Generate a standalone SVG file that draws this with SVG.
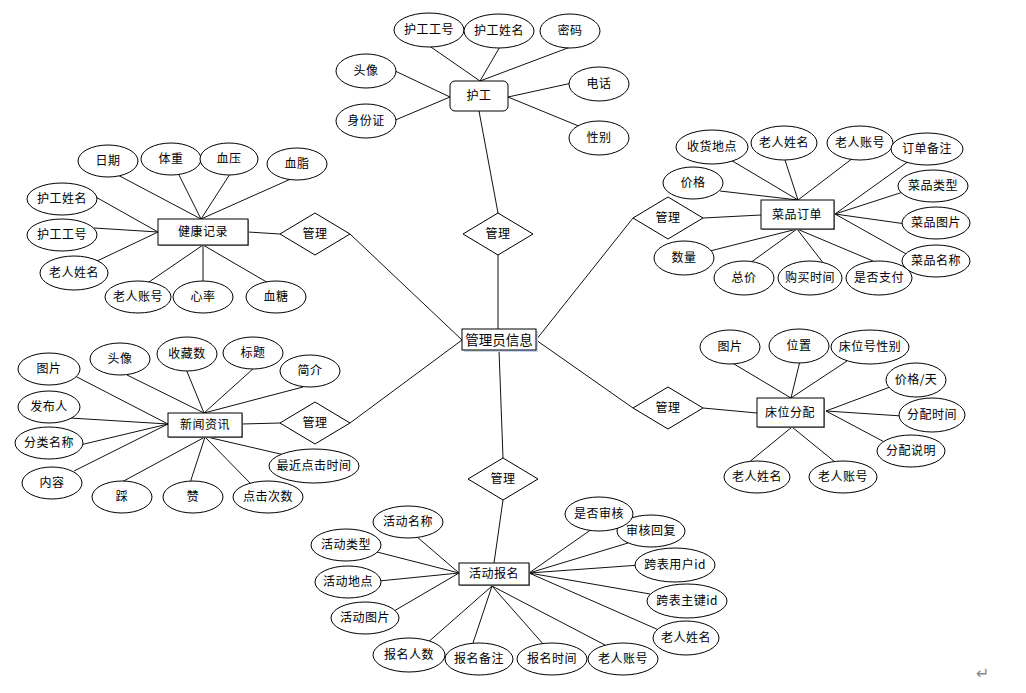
<svg xmlns="http://www.w3.org/2000/svg" width="1026" height="693" viewBox="0 0 1026 693">
<defs>
<style>
.e{fill:#fff;stroke:#000;stroke-width:1}
.r{fill:#fff;stroke:#000;stroke-width:1}
.s{fill:#999;stroke:none}
.d{fill:#fff;stroke:#000;stroke-width:1}
.c line{stroke:#111;stroke-width:1}
text{font-family:"Noto Sans CJK SC","Noto Sans",sans-serif;font-size:12px;fill:#000;text-anchor:middle;letter-spacing:0.5px}
.big{font-size:13.5px;letter-spacing:0}
</style>
</defs>
<rect width="1026" height="693" fill="#fff"/>
<g id="connectors" class="c">
<!-- 护工 -->
<line x1="480" y1="81" x2="428" y2="45"/>
<line x1="480" y1="81" x2="501" y2="45"/>
<line x1="480" y1="81" x2="573" y2="46"/>
<line x1="450" y1="97" x2="393" y2="70"/>
<line x1="450" y1="97" x2="393" y2="121"/>
<line x1="508" y1="97" x2="572" y2="83"/>
<line x1="508" y1="97" x2="581" y2="127"/>
<line x1="479" y1="111" x2="498" y2="213"/>
<!-- 管理员信息 -->
<line x1="498" y1="255" x2="498" y2="329"/>
<line x1="350" y1="234" x2="462" y2="340"/>
<line x1="350" y1="423" x2="462" y2="340"/>
<line x1="499" y1="350" x2="503" y2="458"/>
<line x1="536" y1="340" x2="633" y2="218"/>
<line x1="536" y1="340" x2="633" y2="408"/>
<!-- 健康记录 -->
<line x1="248" y1="232" x2="280" y2="234"/>
<line x1="201" y1="219" x2="114" y2="173"/>
<line x1="201" y1="219" x2="178" y2="173"/>
<line x1="201" y1="219" x2="230" y2="174"/>
<line x1="201" y1="219" x2="293" y2="178"/>
<line x1="158" y1="232" x2="94" y2="196"/>
<line x1="158" y1="232" x2="94" y2="228"/>
<line x1="158" y1="232" x2="95" y2="262"/>
<line x1="203" y1="245" x2="146" y2="284"/>
<line x1="203" y1="245" x2="203" y2="284"/>
<line x1="203" y1="245" x2="270" y2="284"/>
<!-- 新闻资讯 -->
<line x1="242" y1="424" x2="280" y2="423"/>
<line x1="204" y1="413" x2="127" y2="375"/>
<line x1="204" y1="413" x2="186" y2="369"/>
<line x1="204" y1="413" x2="254" y2="368"/>
<line x1="204" y1="413" x2="303" y2="387"/>
<line x1="168" y1="424" x2="75" y2="376"/>
<line x1="168" y1="424" x2="70" y2="418"/>
<line x1="168" y1="424" x2="80" y2="445"/>
<line x1="168" y1="424" x2="74" y2="471"/>
<line x1="205" y1="437" x2="120" y2="483"/>
<line x1="205" y1="437" x2="189" y2="486"/>
<line x1="205" y1="437" x2="252" y2="485"/>
<line x1="207" y1="437" x2="289" y2="456"/>
<!-- 菜品订单 -->
<line x1="703" y1="218" x2="761" y2="215"/>
<line x1="798" y1="200" x2="729" y2="159"/>
<line x1="798" y1="200" x2="784" y2="157"/>
<line x1="798" y1="200" x2="853" y2="158"/>
<line x1="798" y1="200" x2="720" y2="191"/>
<line x1="835" y1="214" x2="909" y2="161"/>
<line x1="835" y1="214" x2="903" y2="192"/>
<line x1="835" y1="214" x2="906" y2="224"/>
<line x1="835" y1="214" x2="908" y2="255"/>
<line x1="797" y1="229" x2="710" y2="251"/>
<line x1="797" y1="229" x2="750" y2="263"/>
<line x1="797" y1="229" x2="824" y2="264"/>
<line x1="797" y1="229" x2="873" y2="261"/>
<!-- 床位分配 -->
<line x1="703" y1="408" x2="757" y2="413"/>
<line x1="791" y1="398" x2="729" y2="361"/>
<line x1="791" y1="398" x2="800" y2="361"/>
<line x1="791" y1="398" x2="847" y2="361"/>
<line x1="826" y1="411" x2="890" y2="387"/>
<line x1="826" y1="411" x2="902" y2="416"/>
<line x1="826" y1="411" x2="890" y2="445"/>
<line x1="792" y1="427" x2="748" y2="463"/>
<line x1="792" y1="427" x2="835" y2="462"/>
<!-- 活动报名 -->
<line x1="503" y1="500" x2="494" y2="563"/>
<line x1="459" y1="573" x2="416" y2="536"/>
<line x1="459" y1="573" x2="377" y2="552"/>
<line x1="459" y1="573" x2="379" y2="581"/>
<line x1="459" y1="573" x2="394" y2="611"/>
<line x1="529" y1="573" x2="592" y2="529"/>
<line x1="529" y1="573" x2="628" y2="543"/>
<line x1="529" y1="573" x2="640" y2="565"/>
<line x1="529" y1="573" x2="650" y2="594"/>
<line x1="529" y1="573" x2="661" y2="631"/>
<line x1="492" y1="586" x2="426" y2="644"/>
<line x1="492" y1="586" x2="472" y2="646"/>
<line x1="492" y1="586" x2="544" y2="645"/>
<line x1="492" y1="586" x2="605" y2="645"/>
</g>

<g id="admin">
<rect x="464" y="331" width="74" height="21" fill="#c9d6e8"/>
<rect class="r" x="462" y="329" width="74" height="21"/>
<text class="big" x="499" y="344.5">管理员信息</text>
</g>

<g id="rel-nurse">
<polygon class="d" points="498,213 533,234 498,255 463,234"/>
<text x="498" y="238">管理</text>
</g>
<g id="rel-health">
<polygon class="d" points="315,213 350,234 315,255 280,234"/>
<text x="315" y="238">管理</text>
</g>
<g id="rel-news">
<polygon class="d" points="315,402 350,423 315,444 280,423"/>
<text x="315" y="427">管理</text>
</g>
<g id="rel-activity">
<polygon class="d" points="503,458 538,479 503,500 468,479"/>
<text x="503" y="483">管理</text>
</g>
<g id="rel-food">
<polygon class="d" points="668,197 703,218 668,239 633,218"/>
<text x="668" y="222">管理</text>
</g>
<g id="rel-bed">
<polygon class="d" points="668,387 703,408 668,429 633,408"/>
<text x="668" y="412">管理</text>
</g>

<g id="nurse">
<rect class="r" x="450" y="81" width="58" height="30" rx="5"/>
<text x="479" y="100">护工</text>
<ellipse class="e" cx="429" cy="30" rx="35" ry="17"/><text x="429" y="34">护工工号</text>
<ellipse class="e" cx="499" cy="31" rx="35" ry="17"/><text x="499" y="35">护工姓名</text>
<ellipse class="e" cx="570" cy="31" rx="30" ry="17"/><text x="570" y="35">密码</text>
<ellipse class="e" cx="366" cy="71" rx="30" ry="17"/><text x="366" y="75">头像</text>
<ellipse class="e" cx="366" cy="121" rx="30" ry="17"/><text x="366" y="125">身份证</text>
<ellipse class="e" cx="599" cy="84" rx="30" ry="17"/><text x="599" y="88">电话</text>
<ellipse class="e" cx="599" cy="138" rx="30" ry="17"/><text x="599" y="142">性别</text>
</g>

<g id="health">
<rect class="s" x="159" y="220" width="90" height="26"/>
<rect class="r" x="158" y="219" width="90" height="26"/>
<text x="203" y="236">健康记录</text>
<ellipse class="e" cx="108" cy="161" rx="30" ry="16"/><text x="108" y="165">日期</text>
<ellipse class="e" cx="171" cy="159" rx="30" ry="16"/><text x="171" y="163">体重</text>
<ellipse class="e" cx="229" cy="159" rx="29" ry="16"/><text x="229" y="163">血压</text>
<ellipse class="e" cx="297" cy="164" rx="30" ry="16"/><text x="297" y="168">血脂</text>
<ellipse class="e" cx="62" cy="199" rx="35" ry="16"/><text x="62" y="203">护工姓名</text>
<ellipse class="e" cx="62" cy="235" rx="35" ry="16"/><text x="62" y="239">护工工号</text>
<ellipse class="e" cx="74" cy="273" rx="34" ry="17"/><text x="74" y="277">老人姓名</text>
<ellipse class="e" cx="138" cy="297" rx="33" ry="16"/><text x="138" y="301">老人账号</text>
<ellipse class="e" cx="203" cy="297" rx="30" ry="16"/><text x="203" y="301">心率</text>
<ellipse class="e" cx="276" cy="297" rx="30" ry="16"/><text x="276" y="301">血糖</text>
</g>

<g id="news">
<rect class="s" x="169" y="414" width="74" height="24"/>
<rect class="r" x="168" y="413" width="74" height="24"/>
<text x="205" y="429">新闻资讯</text>
<ellipse class="e" cx="49" cy="369" rx="31" ry="16"/><text x="49" y="373">图片</text>
<ellipse class="e" cx="120" cy="359" rx="30" ry="16"/><text x="120" y="363">头像</text>
<ellipse class="e" cx="187" cy="354" rx="30" ry="17"/><text x="187" y="358">收藏数</text>
<ellipse class="e" cx="253" cy="353" rx="30" ry="16"/><text x="253" y="357">标题</text>
<ellipse class="e" cx="310" cy="371" rx="30" ry="16"/><text x="310" y="375">简介</text>
<ellipse class="e" cx="49" cy="407" rx="31" ry="16"/><text x="49" y="411">发布人</text>
<ellipse class="e" cx="49" cy="443" rx="34" ry="16"/><text x="49" y="447">分类名称</text>
<ellipse class="e" cx="52" cy="483" rx="30" ry="16"/><text x="52" y="487">内容</text>
<ellipse class="e" cx="122" cy="497" rx="30" ry="16"/><text x="122" y="501">踩</text>
<ellipse class="e" cx="193" cy="497" rx="30" ry="16"/><text x="193" y="501">赞</text>
<ellipse class="e" cx="268" cy="497" rx="35" ry="16"/><text x="268" y="501">点击次数</text>
<ellipse class="e" cx="314" cy="466" rx="45" ry="17"/><text x="314" y="470">最近点击时间</text>
</g>

<g id="food">
<rect class="s" x="762" y="201" width="73" height="29"/>
<rect class="r" x="761" y="200" width="73" height="29"/>
<text x="797" y="219">菜品订单</text>
<ellipse class="e" cx="712" cy="147" rx="36" ry="17"/><text x="712" y="151">收货地点</text>
<ellipse class="e" cx="784" cy="143" rx="33" ry="17"/><text x="784" y="147">老人姓名</text>
<ellipse class="e" cx="860" cy="143" rx="33" ry="17"/><text x="860" y="147">老人账号</text>
<ellipse class="e" cx="927" cy="149" rx="36" ry="16"/><text x="927" y="153">订单备注</text>
<ellipse class="e" cx="933" cy="186" rx="35" ry="16"/><text x="933" y="190">菜品类型</text>
<ellipse class="e" cx="936" cy="223" rx="34" ry="16"/><text x="936" y="227">菜品图片</text>
<ellipse class="e" cx="936" cy="261" rx="34" ry="16"/><text x="936" y="265">菜品名称</text>
<ellipse class="e" cx="693" cy="183" rx="30" ry="16"/><text x="693" y="187">价格</text>
<ellipse class="e" cx="684" cy="258" rx="30" ry="17"/><text x="684" y="262">数量</text>
<ellipse class="e" cx="744" cy="278" rx="30" ry="17"/><text x="744" y="282">总价</text>
<ellipse class="e" cx="810" cy="278" rx="32" ry="17"/><text x="810" y="282">购买时间</text>
<ellipse class="e" cx="879" cy="278" rx="33" ry="17"/><text x="879" y="282">是否支付</text>
</g>

<g id="bed">
<rect class="s" x="758" y="399" width="67" height="29"/>
<rect class="r" x="757" y="398" width="67" height="29"/>
<text x="790" y="417">床位分配</text>
<ellipse class="e" cx="730" cy="347" rx="30" ry="17"/><text x="730" y="351">图片</text>
<ellipse class="e" cx="799" cy="346" rx="30" ry="17"/><text x="799" y="350">位置</text>
<ellipse class="e" cx="870" cy="347" rx="39" ry="17"/><text x="870" y="351">床位号性别</text>
<ellipse class="e" cx="916" cy="380" rx="30" ry="17"/><text x="916" y="384">价格/天</text>
<ellipse class="e" cx="932" cy="415" rx="33" ry="17"/><text x="932" y="419">分配时间</text>
<ellipse class="e" cx="911" cy="451" rx="34" ry="16"/><text x="911" y="455">分配说明</text>
<ellipse class="e" cx="757" cy="477" rx="33" ry="16"/><text x="757" y="481">老人姓名</text>
<ellipse class="e" cx="843" cy="477" rx="34" ry="16"/><text x="843" y="481">老人账号</text>
</g>

<g id="activity">
<rect class="s" x="460" y="564" width="70" height="22"/>
<rect class="r" x="459" y="563" width="70" height="22"/>
<text x="494" y="578">活动报名</text>
<ellipse class="e" cx="408" cy="522" rx="35" ry="16"/><text x="408" y="526">活动名称</text>
<ellipse class="e" cx="346" cy="545" rx="35" ry="16"/><text x="346" y="549">活动类型</text>
<ellipse class="e" cx="348" cy="582" rx="33" ry="16"/><text x="348" y="586">活动地点</text>
<ellipse class="e" cx="365" cy="618" rx="34" ry="16"/><text x="365" y="622">活动图片</text>
<ellipse class="e" cx="409" cy="655" rx="36" ry="17"/><text x="409" y="659">报名人数</text>
<ellipse class="e" cx="479" cy="659" rx="34" ry="16"/><text x="479" y="663">报名备注</text>
<ellipse class="e" cx="552" cy="659" rx="35" ry="16"/><text x="552" y="663">报名时间</text>
<ellipse class="e" cx="623" cy="659" rx="35" ry="16"/><text x="623" y="663">老人账号</text>
<ellipse class="e" cx="686" cy="638" rx="33" ry="17"/><text x="686" y="642">老人姓名</text>
<ellipse class="e" cx="687" cy="601" rx="40" ry="17"/><text x="687" y="605">跨表主键id</text>
<ellipse class="e" cx="675" cy="565" rx="40" ry="17"/><text x="675" y="569">跨表用户id</text>
<ellipse class="e" cx="651" cy="531" rx="34" ry="16"/><text x="651" y="535">审核回复</text>
<ellipse class="e" cx="599" cy="514" rx="34" ry="17"/><text x="599" y="518">是否审核</text>
</g>

<text x="983" y="679" style="font-family:'DejaVu Sans',sans-serif;font-size:16px;fill:#888">↵</text>
</svg>
